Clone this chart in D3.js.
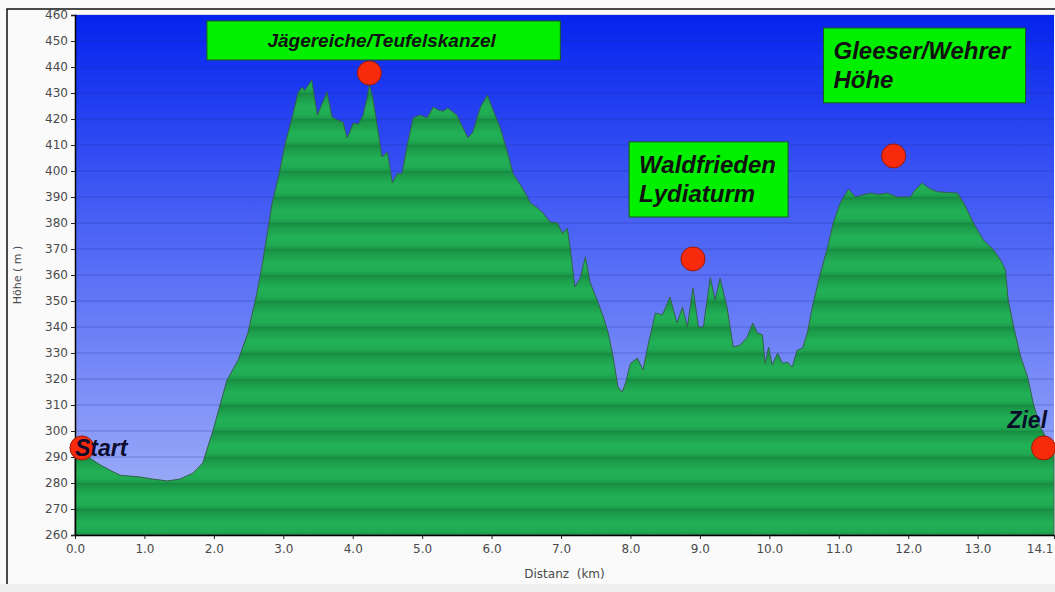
<!DOCTYPE html>
<html>
<head>
<meta charset="utf-8">
<script src="https://cdn.jsdelivr.net/npm/d3@7"></script>
<style>
  body { margin: 0; background: #fafafa; }
  svg { display: block; }
</style>
</head>
<body>
<svg id="chart" width="1055" height="592"></svg>
<script>
// elevation profile
const distKm = [0, 0.03, 0.22, 0.36, 0.50, 0.65, 0.94, 1.12, 1.33, 1.51, 1.70, 1.84, 1.99, 2.12, 2.19,
  2.35, 2.49, 2.62, 2.69, 2.77, 2.84, 2.93, 3.03, 3.13, 3.21, 3.27, 3.31, 3.41, 3.49, 3.63, 3.70,
  3.78, 3.86, 3.92, 4.01, 4.08, 4.15, 4.21, 4.24, 4.29, 4.37, 4.42, 4.50, 4.57, 4.64, 4.71, 4.78,
  4.87, 4.97, 5.07, 5.16, 5.23, 5.30, 5.37, 5.50, 5.59, 5.66, 5.73, 5.84, 5.94, 6.02, 6.12, 6.22,
  6.31, 6.37, 6.46, 6.56, 6.66, 6.74, 6.84, 6.95, 7.02, 7.09, 7.13, 7.20, 7.28, 7.35, 7.42, 7.52,
  7.61, 7.68, 7.75, 7.82, 7.88, 7.93, 8.00, 8.10, 8.18, 8.26, 8.36, 8.46, 8.57, 8.67, 8.75, 8.82,
  8.90, 8.98, 9.05, 9.15, 9.22, 9.29, 9.39, 9.48, 9.58, 9.68, 9.76, 9.83, 9.90, 9.94, 9.99, 10.04,
  10.12, 10.19, 10.26, 10.33, 10.40, 10.48, 10.55, 10.63, 10.73, 10.84, 10.92, 11.02, 11.14, 11.24,
  11.35, 11.46, 11.57, 11.70, 11.84, 12.03, 12.10, 12.20, 12.29, 12.42, 12.71, 12.80, 12.94, 13.08,
  13.23, 13.33, 13.40, 13.44, 13.52, 13.62, 13.72, 13.80, 13.90, 14.01, 14.1];
const heightM = [291, 290.4, 289.5, 287, 285, 283, 282.3, 281.5, 280.8, 281.5, 283.8, 287.7, 300.4, 313, 319.6,
  327.3, 337.7, 353, 363, 376, 387.7, 397.7, 410.8, 420.8, 430, 432.3, 431, 435, 421.5, 430.4, 420.8,
  419.6, 418.8, 412.7, 418.5, 418, 421.5, 428.5, 433, 428, 414.6, 405.4, 407.3, 395.4, 399, 399, 409.2,
  420.4, 421.5, 420.4, 424.6, 423.5, 423, 424.2, 421.5, 416.5, 412.7, 415, 424.6, 429.2, 423.5, 417, 408,
  399, 396.5, 392.7, 387.7, 385.8, 383.8, 380.4, 380, 376, 378, 370.8, 355.4, 359, 367, 357, 350.4,
  343.8, 337.7, 328.5, 316.9, 315, 318.5, 326, 328, 323.5, 333.8, 345.4, 344.6, 351.5, 341.5, 347.7, 340,
  355, 340, 340, 359, 350.4, 358.8, 347.7, 332.3, 333, 336, 341.5, 337.7, 337, 326, 332.3, 325.4,
  330, 326, 326.5, 324.6, 331, 331.9, 338, 349, 360, 370.8, 380, 387.7, 393, 390,
  390.8, 391.5, 391, 391.5, 390, 390, 392.7, 395.4, 393.5, 392, 391.5, 387.7, 380, 373.5,
  369.6, 365.8, 362, 350.4, 340, 328.5, 320.8, 310.8, 301.5, 296.5, 294];

// tick labels
const yTicks = [260, 270, 280, 290, 300, 310, 320, 330, 340, 350, 360, 370, 380, 390, 400, 410, 420, 430, 440, 450, 460];
const xTicks = [0, 1, 2, 3, 4, 5, 6, 7, 8, 9, 10, 11, 12, 13, 14.1];

// waypoints (red dots)
const pointNames = ["Start", "Jägereiche", "Waldfrieden", "Gleeser", "Ziel"];
const pointKm = [0.1, 4.24, 8.9, 11.79, 13.95];
const pointM = [293.5, 437.7, 366.2, 405.8, 293.5];

// green label boxes: [km0, km1], [mTop, mBottom]
const boxNames = ["Jägereiche/Teufelskanzel", "Waldfrieden\nLydiaturm", "Gleeser/Wehrer\nHöhe"];
const boxKm = [[1.90, 6.99], [7.98, 10.27], [10.78, 13.69]];
const boxM = [[457.7, 442.7], [411.2, 382.3], [455, 426.2]];

const W = 1055, H = 592;
const margin = {top: 15, right: 1, left: 75, bottom: 57};
const iw = W - margin.left - margin.right;
const ih = H - margin.top - margin.bottom;

const svg = d3.select("#chart");
const defs = svg.append("defs");

const x = d3.scaleLinear().domain([0, 14.1]).range([0, iw]);
const y = d3.scaleLinear().domain([260, 460]).range([ih, 0]);

// frame
svg.append("rect").attr("x", 0).attr("y", 584).attr("width", W).attr("height", 8).attr("fill", "#efefef");
svg.append("path").attr("d", "M7,584V9H1055").attr("fill", "none").attr("stroke", "#111").attr("stroke-width", 1.5);

// sky gradient
const sky = defs.append("linearGradient").attr("id", "sky").attr("x1", 0).attr("x2", 0).attr("y1", 0).attr("y2", 1);
sky.append("stop").attr("offset", 0).attr("stop-color", "#0424ee");
sky.append("stop").attr("offset", 0.5).attr("stop-color", "#5a70f6");
sky.append("stop").attr("offset", 1).attr("stop-color", "#a8b6f8");

// striped green fill, one band per 10 m
const band = y(450) - y(460);
const gg = defs.append("linearGradient").attr("id", "bandGrad").attr("x1", 0).attr("x2", 0).attr("y1", 0).attr("y2", 1);
gg.append("stop").attr("offset", 0).attr("stop-color", "#168a40");
gg.append("stop").attr("offset", 0.18).attr("stop-color", "#1c9c4a");
gg.append("stop").attr("offset", 0.55).attr("stop-color", "#22b157");
gg.append("stop").attr("offset", 0.85).attr("stop-color", "#20aa53");
gg.append("stop").attr("offset", 1).attr("stop-color", "#1a9848");
const pat = defs.append("pattern").attr("id", "stripes").attr("patternUnits", "userSpaceOnUse")
  .attr("x", 0).attr("y", 0).attr("width", iw).attr("height", band);
pat.append("rect").attr("width", iw).attr("height", band).attr("fill", "url(#bandGrad)");

const g = svg.append("g").attr("transform", `translate(${margin.left},${margin.top})`);

g.append("rect").attr("width", iw).attr("height", ih).attr("fill", "url(#sky)");

// grid
g.selectAll("line.grid")
  .data(yTicks)
  .enter()
  .append("line")
  .attr("class", "grid")
  .attr("x1", 0).attr("x2", iw)
  .attr("y1", d => y(d)).attr("y2", d => y(d))
  .style("stroke", "#1a2a8a")
  .style("stroke-opacity", 0.3);

const profile = distKm.map((d, i) => ({km: d, m: heightM[i]}));

const area = d3.area()
  .x(d => x(d.km))
  .y0(y(260))
  .y1(d => y(d.m));

g.append("path")
  .datum(profile)
  .attr("d", area)
  .style("fill", "url(#stripes)")
  .style("stroke", "#35604a")
  .style("stroke-width", 1);

// axes
const yAxis = g.append("g")
  .call(d3.axisLeft(y).tickValues(yTicks).tickSize(4).tickSizeOuter(4).tickPadding(3));
const xAxis = g.append("g")
  .attr("transform", `translate(0,${ih})`)
  .call(d3.axisBottom(x).tickValues(xTicks).tickFormat(d3.format(".1f")).tickSize(4).tickSizeOuter(0).tickPadding(5));

[yAxis, xAxis].forEach(a => {
  a.select(".domain").style("stroke", "#000").style("stroke-width", 1.5);
  a.selectAll(".tick line").style("stroke", "#222");
  a.selectAll(".tick text")
    .style("font-family", "DejaVu Sans, Verdana, sans-serif")
    .style("font-size", "12px")
    .style("fill", "#4a4a4a");
});
xAxis.selectAll(".tick text").filter(d => d === 14.1).attr("text-anchor", "end").attr("dx", "-1");

// axis titles
svg.append("text")
  .attr("transform", `translate(21,${margin.top + y(360)}) rotate(-90)`)
  .attr("text-anchor", "middle")
  .style("font-family", "DejaVu Sans, Verdana, sans-serif")
  .style("font-size", "11px")
  .style("fill", "#4a4a4a")
  .text("Höhe ( m )");

svg.append("text")
  .attr("x", margin.left + x(7.05))
  .attr("y", 578)
  .attr("text-anchor", "middle")
  .style("font-family", "DejaVu Sans, Verdana, sans-serif")
  .style("font-size", "12px")
  .style("fill", "#4a4a4a")
  .style("white-space", "pre")
  .text("Distanz  (km)");

// label boxes
const labelFont = "Liberation Sans, Arial, sans-serif";
boxNames.forEach((name, i) => {
  const x0 = x(boxKm[i][0]), x1 = x(boxKm[i][1]);
  const y0 = y(boxM[i][0]), y1 = y(boxM[i][1]);
  g.append("rect")
    .attr("x", x0).attr("y", y0)
    .attr("width", x1 - x0).attr("height", y1 - y0)
    .style("fill", "#00f000")
    .style("stroke", "#1b5a1b")
    .style("stroke-width", 1);
  const lines = name.split("\n");
  const single = lines.length === 1;
  const t = g.append("text")
    .style("font-family", labelFont)
    .style("font-weight", "bold")
    .style("font-style", "italic")
    .style("font-size", single ? "19px" : "24px")
    .style("fill", "#111");
  if (single) {
    t.attr("x", (x0 + x1) / 2 - 2).attr("y", (y0 + y1) / 2 + 7).attr("text-anchor", "middle").text(name);
  } else {
    lines.forEach((l, j) => {
      t.append("tspan")
        .attr("x", x0 + 10)
        .attr("y", y0 + 31 + j * 29)
        .text(l);
    });
  }
});

// red dots
g.selectAll("circle.wp")
  .data(pointNames)
  .enter()
  .append("circle")
  .attr("class", "wp")
  .attr("cx", (d, i) => x(pointKm[i]))
  .attr("cy", (d, i) => y(pointM[i]))
  .attr("r", 12)
  .style("fill", "#f72a0c")
  .style("stroke", "#9a1a08")
  .style("stroke-width", 1);

// Start / Ziel text
g.append("text")
  .attr("x", x(0)).attr("y", y(290.4))
  .style("font-family", labelFont).style("font-weight", "bold").style("font-style", "italic")
  .style("font-size", "23px").style("fill", "#0c0c2c")
  .text("Start");
g.append("text")
  .attr("x", x(14.0)).attr("y", y(301.2))
  .attr("text-anchor", "end")
  .style("font-family", labelFont).style("font-weight", "bold").style("font-style", "italic")
  .style("font-size", "23px").style("fill", "#0c0c2c")
  .text("Ziel");
</script>
</body>
</html>
